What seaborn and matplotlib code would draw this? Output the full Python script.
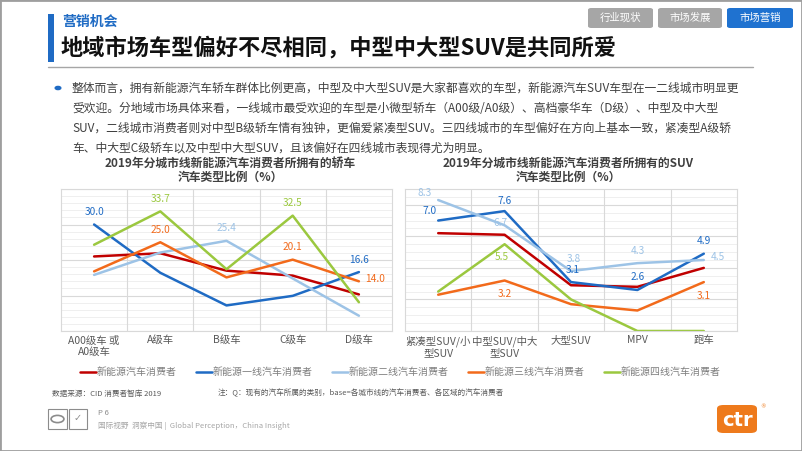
import pandas as pd
import seaborn as sns
import matplotlib.pyplot as plt
from matplotlib.patches import Rectangle, FancyBboxPatch, Circle
from matplotlib.lines import Line2D

# data
groups = ["新能源汽车消费者", "新能源一线汽车消费者", "新能源二线汽车消费者",
          "新能源三线汽车消费者", "新能源四线汽车消费者"]
colors = ["#C00000", "#1F6BC4", "#9DC3E6", "#F26A1B", "#9BC83F"]

sedan_cats = ["A00级车 或\nA0级车", "A级车", "B级车", "C级车", "D级车"]
sedan_all = [21.0, 21.9, 17.0, 15.6, 10.3]
sedan_t1 = [30.0, 16.4, 7.2, 9.9, 16.6]
sedan_t2 = [15.8, 22.1, 25.4, 14.8, 4.3]
sedan_t3 = [16.8, 25.0, 15.1, 20.1, 14.0]
sedan_t4 = [24.3, 33.7, 17.4, 32.5, 8.1]

suv_cats = ["紧凑型SUV/小\n型SUV", "中型SUV/中大\n型SUV", "大型SUV", "MPV", "跑车"]
suv_all = [6.2, 6.1, 2.9, 2.8, 4.0]
suv_t1 = [7.0, 7.6, 3.1, 2.6, 4.9]
suv_t2 = [8.3, 6.7, 3.8, 4.3, 4.5]
suv_t3 = [2.3, 3.2, 1.7, 1.3, 3.1]
suv_t4 = [2.5, 5.5, 2.0, 0.0, 0.0]

# which points carry a value label: (series index, category index, dx, dy) in points
sedan_labels = [(1, 0, 0, 9), (4, 1, 0, 9), (3, 1, 0, 9), (2, 2, 0, 9),
                (4, 3, 0, 9), (3, 3, 0, 9), (1, 4, 0, 9), (3, 4, 12, 2)]
suv_labels = [(2, 0, -10, 5), (1, 0, -6, 7), (1, 1, 0, 7), (2, 1, -3, 2),
              (4, 1, -2, -9), (3, 1, 0, -10), (2, 2, 2, 9), (1, 2, 1, 9),
              (2, 3, 0, 9), (1, 3, 0, 9), (1, 4, 0, 9), (2, 4, 10, 2), (3, 4, 0, -10)]

W, H = 802, 451

sns.set_theme(style="white")
plt.rcParams['font.family'] = ['Noto Sans CJK SC', 'DejaVu Sans']

fig = plt.figure(figsize=(W / 100, H / 100), dpi=100)


def fx(x):
    return x / W


def fy(y):
    return 1 - y / H


def draw_chart(ax, cats, series, ymax, major, minor, labels):
    rows = []
    for g, vals in zip(groups, series):
        for c, v in zip(cats, vals):
            rows.append({"cat": c, "val": v, "group": g})
    df = pd.DataFrame(rows)
    sns.lineplot(data=df, x="cat", y="val", hue="group", hue_order=groups,
                 palette=colors, sort=False, linewidth=1.8, ax=ax, legend=False)
    ax.set_xlim(-0.5, len(cats) - 0.5)
    ax.set_ylim(0, ymax)
    yt = [i * minor for i in range(int(round(ymax / minor)) + 1)]
    for y in yt:
        if abs(y / major - round(y / major)) < 1e-6:
            ax.axhline(y, color="#D9D9D9", lw=0.8, zorder=0)
        else:
            ax.axhline(y, color="#EDEDED", lw=0.6, zorder=0)
    for i in range(len(cats) - 1):
        ax.axvline(i + 0.5, color="#D9D9D9", lw=0.8, zorder=0)
    ax.set_yticks([])
    ax.set_xlabel("")
    ax.set_ylabel("")
    ax.tick_params(axis="x", length=0, pad=3, labelsize=7.5, labelcolor="#595959")
    for s in ax.spines.values():
        s.set_color("#D9D9D9")
        s.set_linewidth(0.8)
    for si, ci, dx, dy in labels:
        v = series[si][ci]
        ax.annotate(f"{v:.1f}", (cats[ci], v), xytext=(dx, dy), textcoords="offset points",
                    ha="center", va="center", fontsize=7.3, color=colors[si])


ax1 = fig.add_axes([fx(61), fy(331), fx(392) - fx(61), fy(189) - fy(331)])
draw_chart(ax1, sedan_cats, [sedan_all, sedan_t1, sedan_t2, sedan_t3, sedan_t4],
           40, 10, 2, sedan_labels)

ax2 = fig.add_axes([fx(405), fy(331), fx(737) - fx(405), fy(189) - fy(331)])
draw_chart(ax2, suv_cats, [suv_all, suv_t1, suv_t2, suv_t3, suv_t4],
           9, 2, 0.5, suv_labels)

# chart titles
fig.text(fx(230), fy(163), "2019年分城市线新能源汽车消费者所拥有的轿车", ha="center", va="center",
         fontsize=8.5, fontweight="bold", color="#404040")
fig.text(fx(230), fy(177), "汽车类型比例（%）", ha="center", va="center",
         fontsize=8.5, fontweight="bold", color="#404040")
fig.text(fx(568), fy(163), "2019年分城市线新能源汽车消费者所拥有的SUV", ha="center", va="center",
         fontsize=8.5, fontweight="bold", color="#404040")
fig.text(fx(568), fy(177), "汽车类型比例（%）", ha="center", va="center",
         fontsize=8.5, fontweight="bold", color="#404040")

# legend
handles = [Line2D([0], [0], color=c, lw=1.8) for c in colors]
leg = fig.legend(handles, groups, loc="center", bbox_to_anchor=(fx(400), fy(372)), ncol=5,
                 frameon=False, fontsize=7.2, handlelength=1.6, handletextpad=0.1,
                 columnspacing=1.9)
for t in leg.get_texts():
    t.set_color("#7F7F7F")

# header
fig.add_artist(Rectangle((fx(48), fy(62)), fx(6), fy(14) - fy(62), transform=fig.transFigure,
                         color="#1F6BC4", lw=0))
fig.text(fx(62), fy(22), "营销机会", fontsize=10, fontweight="bold", color="#1F6BC4", va="center")
fig.text(fx(61), fy(48), "地域市场车型偏好不尽相同，中型中大型SUV是共同所爱", fontsize=16,
         fontweight="bold", color="#111111", va="center")
fig.add_artist(Line2D([fx(48), fx(753)], [fy(67), fy(67)], transform=fig.transFigure,
                      color="#A6A6A6", lw=1))

tabs = [("行业现状", 588, 653, "#A6A6A6"), ("市场发展", 658, 722, "#A6A6A6"),
        ("市场营销", 727, 793, "#1F72D0")]
for name, x0, x1, col in tabs:
    fig.add_artist(FancyBboxPatch((fx(x0), fy(28)), fx(x1 - x0), fy(8) - fy(28),
                                  boxstyle="round,pad=0,rounding_size=0.004",
                                  transform=fig.transFigure, color=col, lw=0))
    fig.text(fx((x0 + x1) / 2), fy(18), name, ha="center", va="center", fontsize=7.5, color="white")

# paragraph
fig.add_artist(Circle((fx(58), fy(88)), 0.0035, transform=fig.transFigure, color="#1F6BC4"))
para = [
    "整体而言，拥有新能源汽车轿车群体比例更高，中型及中大型SUV是大家都喜欢的车型，新能源汽车SUV车型在一二线城市明显更",
    "受欢迎。分地域市场具体来看，一线城市最受欢迎的车型是小微型轿车（A00级/A0级）、高档豪华车（D级）、中型及中大型",
    "SUV，二线城市消费者则对中型B级轿车情有独钟，更偏爱紧凑型SUV。三四线城市的车型偏好在方向上基本一致，紧凑型A级轿",
    "车、中大型C级轿车以及中型中大型SUV，且该偏好在四线城市表现得尤为明显。",
]
for i, line in enumerate(para):
    fig.text(fx(72), fy(88 + i * 20), line, fontsize=8.5, color="#404040", va="center")

# footer
fig.text(fx(52), fy(394), "数据来源：CID 消费者智库 2019", fontsize=5.5, color="#595959", va="center")
fig.text(fx(218), fy(393), "注：Q：现有的汽车所属的类别，base=各城市线的汽车消费者、各区域的汽车消费者",
         fontsize=5.5, color="#595959", va="center")
fig.add_artist(Rectangle((fx(48), fy(429)), fx(19), fy(409) - fy(429), transform=fig.transFigure,
                         fill=False, ec="#8C8C8C", lw=0.8))
fig.add_artist(Rectangle((fx(69), fy(429)), fx(18), fy(409) - fy(429), transform=fig.transFigure,
                         fill=False, ec="#8C8C8C", lw=0.8))
fig.add_artist(Circle((fx(57.5), fy(419)), 0.008, transform=fig.transFigure, fill=False,
                      ec="#8C8C8C", lw=1.2))
fig.text(fx(78), fy(418), "✓", ha="center", va="center", fontsize=7, color="#8C8C8C",
         family="DejaVu Sans")
fig.text(fx(98), fy(413), "P 6", fontsize=5.5, color="#8C8C8C", va="center")
fig.text(fx(98), fy(426), "国际视野  洞察中国 |  Global Perception，China Insight", fontsize=5.5,
         color="#A6A6A6", va="center")

fig.add_artist(FancyBboxPatch((fx(717), fy(433)), fx(40), fy(405) - fy(433),
                              boxstyle="round,pad=0,rounding_size=0.008",
                              transform=fig.transFigure, color="#EE7A1C", lw=0))
fig.text(fx(737), fy(421), "ctr", ha="center", va="center", fontsize=14, fontweight="bold",
         color="white", family="DejaVu Sans")
fig.text(fx(763), fy(407), "®", ha="center", va="center", fontsize=4, color="#EE7A1C",
         family="DejaVu Sans")

# screenshot frame
fig.add_artist(Rectangle((0, 0), 1, 1, transform=fig.transFigure, fill=False,
                         ec="#9E9E9E", lw=2))

fig.savefig("out.png", dpi=100)
